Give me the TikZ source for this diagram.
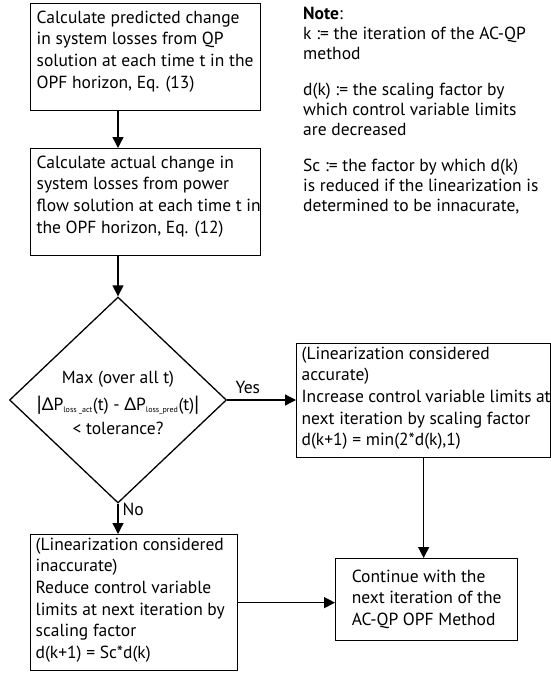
\documentclass[tikz,border=0pt]{standalone}
\usepackage{fontspec}
\setmainfont{PT Sans}
\newfontfamily\grk{Lato}
\usetikzlibrary{arrows.meta,shapes.geometric}
\newcommand{\DeltaP}{{\grk Δ}P}
\newcommand{\subsm}[1]{\textsubscript{\fontsize{8}{8}\selectfont #1}}
\newcommand{\bigbar}{{\fontsize{22}{22}\selectfont\raisebox{-1pt}{|}}}
\begin{document}
\begin{tikzpicture}[x=1pt,y=1pt,
  every node/.style={font=\fontsize{17.5}{21.7}\selectfont},
  box/.style={draw, line width=1.3pt, anchor=north west, inner sep=0pt, align=left},
  arr/.style={line width=1.3pt, -{Triangle[length=11pt,width=11pt]}},
  lbl/.style={inner sep=0pt}]
\useasboundingbox (0,0) rectangle (551,-675);
\node[box] (b1) at (30,-3) {\hspace{6pt}\parbox[c][107pt][t]{224pt}{\vspace{7pt}Calculate predicted change\\in system losses from QP\\solution at each time t in the\\OPF horizon, Eq. (13)}};
\node[box] (b2) at (30,-148) {\hspace{6pt}\parbox[c][107pt][t]{224pt}{\vspace{7pt}Calculate actual change in\\system losses from power\\flow solution at each time t in\\the OPF horizon, Eq. (12)}};
\node[draw, diamond, line width=1.3pt, minimum width=217pt, minimum height=206pt, inner sep=0pt] (dia) at (118,-400) {};
\node[lbl, align=center] (dtxt) at (118,-403) {Max (over all t)\\[5pt]
\bigbar\DeltaP\subsm{loss \_act}(t) - \DeltaP\subsm{loss\_pred}(t)\bigbar\\[3pt]
< tolerance?};
\node[box] (b3) at (296,-343) {\hspace{5pt}\parbox[c][114pt][t]{249pt}{\vspace{3pt}(Linearization considered\\accurate)\\Increase control variable limits at\\next iteration by scaling factor\\d(k+1) = min(2*d(k),1)}};
\node[box] (b4) at (335,-558) {\parbox[c][82pt][c]{182pt}{\centering\begin{tabular}{@{}l@{}}Continue with the\\next iteration of the\\AC-QP OPF Method\end{tabular}}};
\node[box] (b5) at (30,-534) {\hspace{5pt}\parbox[c][136pt][t]{202pt}{\vspace{3pt}(Linearization considered\\inaccurate)\\Reduce control variable\\limits at next iteration by\\scaling factor\\d(k+1) = Sc*d(k)}};
\node[lbl, anchor=north west, align=left, font=\fontsize{17.5}{20}\selectfont] (note) at (303,-7) {\textbf{Note}:\\k := the iteration of the AC-QP\\method\\[16pt]d(k) := the scaling factor by\\which control variable limits\\are decreased\\[16pt]Sc := the factor by which d(k)\\is reduced if the linearization is\\determined to be innacurate,};
\draw[arr] (b1.south -| dia.north) -- (b2.north -| dia.north);
\draw[arr] (b2.south -| dia.north) -- (dia.north);
\draw[arr] (dia.east) -- node[lbl, above, pos=0.3, yshift=6pt] (yes) {Yes} (dia.east -| b3.west);
\draw[arr] (dia.south) -- node[lbl, right, pos=0.2, xshift=4pt] (no) {No} (b5.north -| dia.south);
\draw[arr] (b3.south) -- (b3.south |- b4.north);
\draw[arr] (b5.east) -- (b5.east -| b4.west);
\end{tikzpicture}
\end{document}
